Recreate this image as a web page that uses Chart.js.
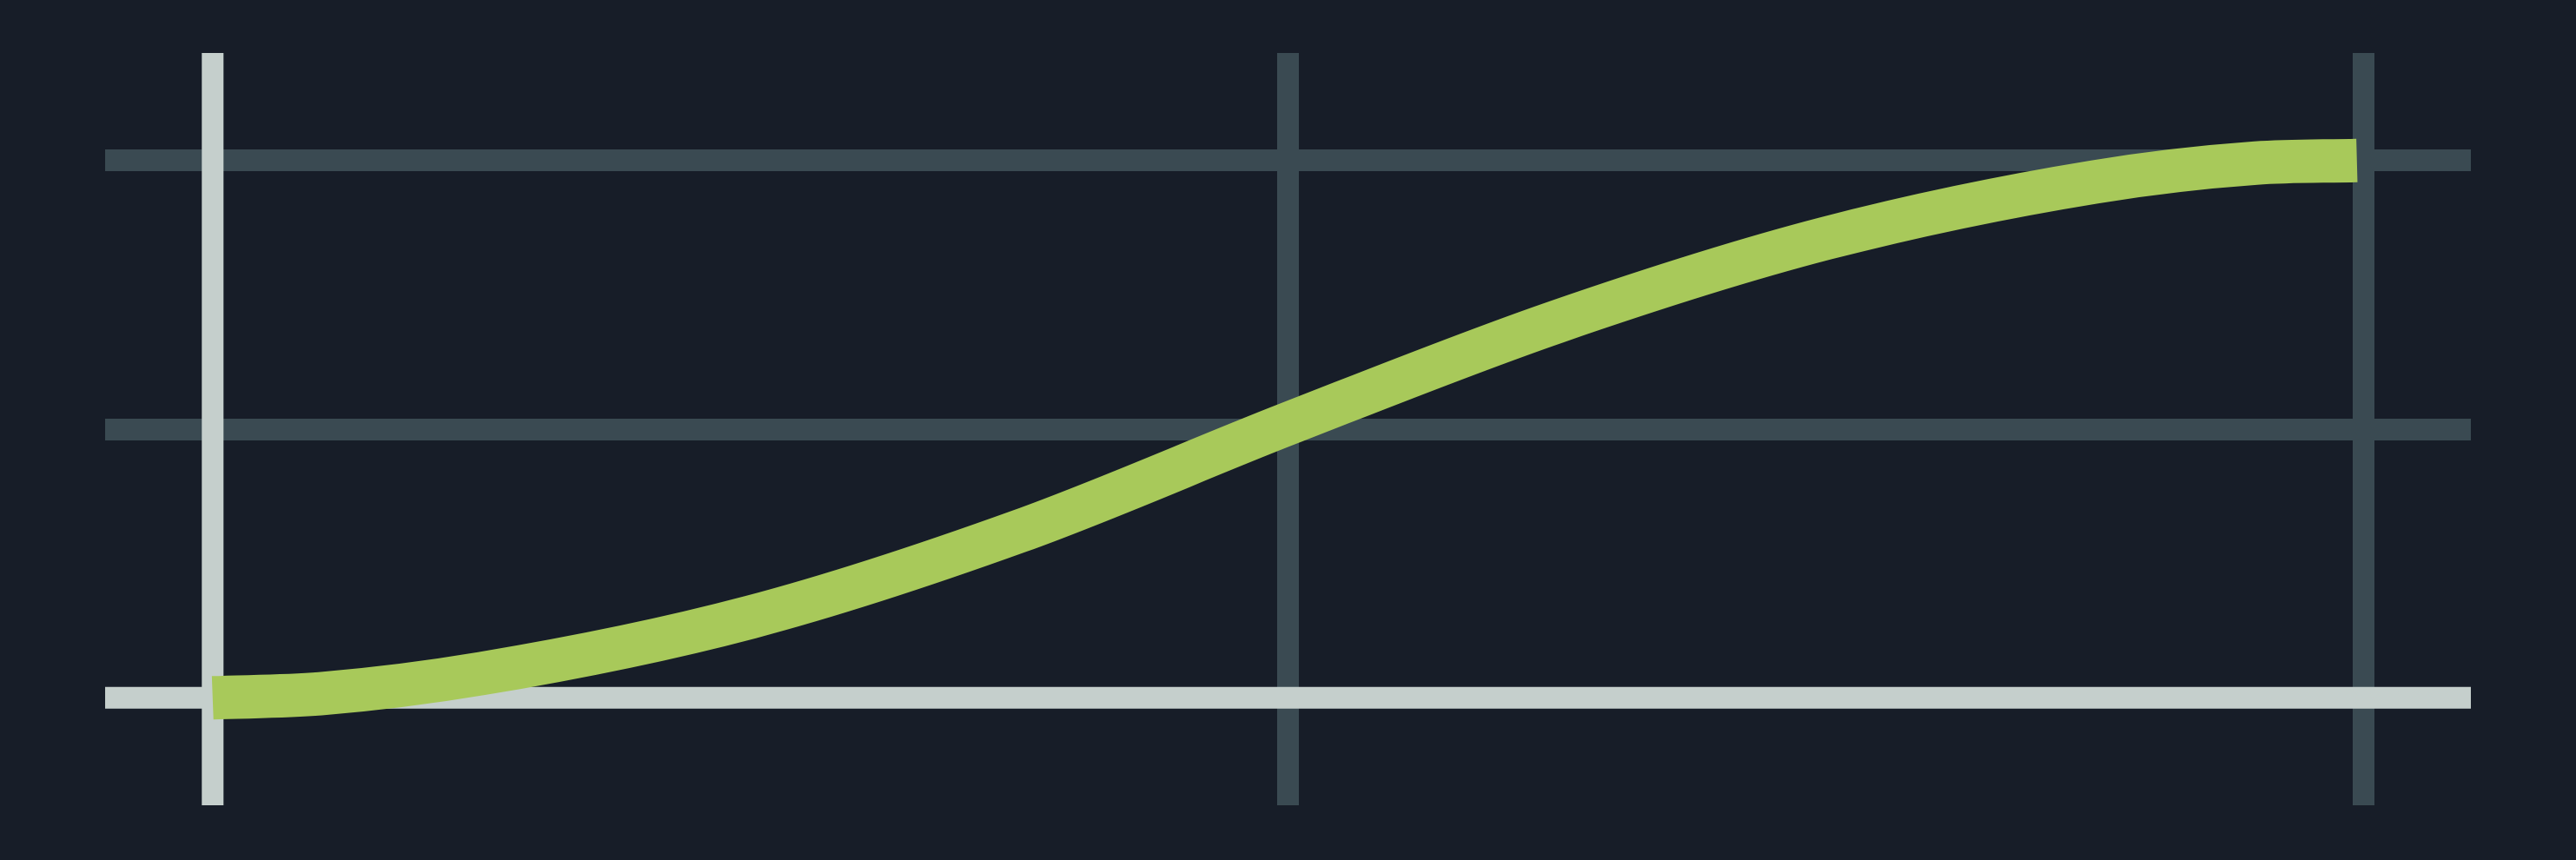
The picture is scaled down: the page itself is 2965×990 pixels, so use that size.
<!DOCTYPE html>
<html>
<head>
<meta charset="utf-8">
<title>S-curve</title>
<script src="https://cdn.jsdelivr.net/npm/chart.js@4"></script>
<style>
  html, body { margin: 0; padding: 0; background: #171d28; }
  canvas { display: block; }
</style>
</head>
<body>
<canvas id="curveChart" width="2965" height="990"></canvas>
<script>
// values
const xValues = [0, 0.1, 0.25, 0.5, 0.75, 1, 1.25, 1.5, 1.75, 1.9, 1.994];
const yValues = [0, 0.015, 0.09, 0.30, 0.62, 1.02, 1.40, 1.71, 1.92, 1.99, 2.0];
const xTicks = [0, 1, 2];
const yTicks = [0, 1, 2];

const gridColor = '#3a4a52';
const axisColor = '#c5cfcc';
const lineColor = '#a8c95a';

// zero lines go over the grid but under the curve
const zeroLines = {
  id: 'zeroLines',
  beforeDatasetsDraw(chart) {
    const { ctx, chartArea, scales } = chart;
    const x0 = scales.x.getPixelForValue(0);
    const y0 = scales.y.getPixelForValue(0);
    ctx.save();
    ctx.strokeStyle = axisColor;
    ctx.lineWidth = 25;
    ctx.beginPath();
    ctx.moveTo(chartArea.left, y0);
    ctx.lineTo(chartArea.right, y0);
    ctx.moveTo(x0, chartArea.top);
    ctx.lineTo(x0, chartArea.bottom);
    ctx.stroke();
    ctx.restore();
  }
};

const gridOpts = {
  color: c => (c.tick && c.tick.value === 0) ? 'rgba(0,0,0,0)' : gridColor,
  lineWidth: 25,
  drawTicks: false
};

new Chart(document.getElementById('curveChart'), {
  type: 'line',
  data: {
    datasets: [{
      data: xValues.map((x, i) => ({ x, y: yValues[i] })),
      borderColor: lineColor,
      borderWidth: 50,
      cubicInterpolationMode: 'monotone',
      pointRadius: 0,
      fill: false
    }]
  },
  options: {
    responsive: false,
    animation: false,
    layout: { padding: { left: 121, right: 121, top: 61, bottom: 63 } },
    plugins: { legend: { display: false }, tooltip: { enabled: false } },
    scales: {
      x: {
        type: 'linear', min: -0.1, max: 2.1,
        afterBuildTicks: s => { s.ticks = xTicks.map(v => ({ value: v })); },
        ticks: { display: false },
        grid: gridOpts,
        border: { display: false }
      },
      y: {
        type: 'linear', min: -0.4, max: 2.4,
        afterBuildTicks: s => { s.ticks = yTicks.map(v => ({ value: v })); },
        ticks: { display: false },
        grid: gridOpts,
        border: { display: false }
      }
    }
  },
  plugins: [zeroLines]
});
</script>
</body>
</html>
